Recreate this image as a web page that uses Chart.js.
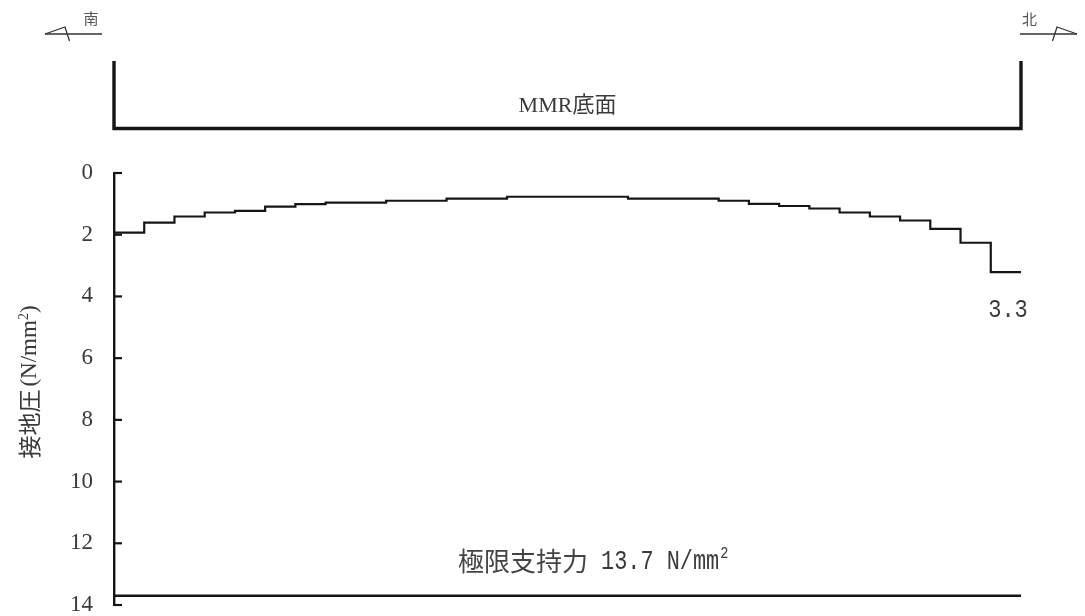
<!DOCTYPE html>
<html><head><meta charset="utf-8">
<script src="https://cdn.jsdelivr.net/npm/chart.js@4/dist/chart.umd.min.js"></script>
<style>html,body{margin:0;padding:0;background:#fff;}#wrap{width:1085px;height:616px;}</style>
</head><body><div id="wrap"><canvas id="c" width="1085" height="616"></canvas></div>
<script>
// ---- data ----
const segmentStarts = [0,1,2,3,4,5,6,7,9,11,13,17,20,21,22,23,24,25,26,27,28,29,30];
const pressureValues = [1.93,1.61,1.41,1.28,1.23,1.09,1.01,0.96,0.90,0.83,0.77,0.83,0.90,1.00,1.07,1.15,1.28,1.41,1.54,1.81,2.26,3.21,3.21];
const ultimateCapacity = 13.7;
const xRange = [0, 30];
const yTickValues = [0,2,4,6,8,10,12,14];
const yTickLabels = ['0','2','4','6','8','10','12','14'];
const yAxisTitleCJK = '接地圧';
const yAxisTitleUnit = '(N/mm';
const yAxisTitleSup = '2';
const yAxisTitleClose = ')';
const baseLabel = 'MMR底面';
const ultimateLabelCJK = '極限支持力';
const ultimateLabelLatin = ' 13.7 N/mm';
const ultimateLabelSup = '2';
const endValueLabel = '3.3';
const southLabel = '南';
const northLabel = '北';

const INK = '#151515';
const TXT = '#3a3a3a';

function condensedText(ctx, text, x, y, font, sx, align) {
  ctx.save();
  ctx.font = font;
  const w = ctx.measureText(text).width * sx;
  let left = x;
  if (align === 'center') left = x - w / 2;
  else if (align === 'right') left = x - w;
  ctx.translate(left, y);
  ctx.scale(sx, 1);
  ctx.textAlign = 'left';
  ctx.fillText(text, 0, 0);
  ctx.restore();
  return w;
}

const decor = {
  id: 'decor',
  afterDraw(chart) {
    const ctx = chart.ctx;
    const xs = chart.scales.x, ys = chart.scales.y;
    const xL = xs.getPixelForValue(xRange[0]);
    const xR = xs.getPixelForValue(xRange[1]);
    ctx.save();
    // inward tick marks
    ctx.strokeStyle = INK; ctx.lineWidth = 2.2;
    yTickValues.forEach(v => {
      const py = ys.getPixelForValue(v);
      ctx.beginPath(); ctx.moveTo(xL, py); ctx.lineTo(xL + 8, py); ctx.stroke();
    });
    // base bracket
    ctx.lineWidth = 3.4; ctx.lineCap = 'butt'; ctx.lineJoin = 'miter';
    ctx.beginPath();
    ctx.moveTo(xL, 61); ctx.lineTo(xL, 128.5); ctx.lineTo(xR, 128.5); ctx.lineTo(xR, 61);
    ctx.stroke();
    // base label
    ctx.fillStyle = TXT;
    ctx.font = "22px 'Liberation Serif','Noto Sans CJK JP'";
    ctx.textAlign = 'center'; ctx.textBaseline = 'middle';
    ctx.fillText(baseLabel, (xL + xR) / 2, 106);
    // south / north arrows
    ctx.strokeStyle = '#333'; ctx.lineWidth = 1.3;
    ctx.beginPath(); ctx.moveTo(45, 34); ctx.lineTo(102, 34); ctx.stroke();
    ctx.beginPath(); ctx.moveTo(45, 34); ctx.lineTo(65, 27); ctx.lineTo(69.5, 41); ctx.stroke();
    ctx.beginPath(); ctx.moveTo(1020, 34); ctx.lineTo(1077, 34); ctx.stroke();
    ctx.beginPath(); ctx.moveTo(1077, 34); ctx.lineTo(1057, 27); ctx.lineTo(1052.5, 41); ctx.stroke();
    ctx.fillStyle = '#555';
    ctx.font = "15px 'Noto Sans CJK JP'";
    ctx.textAlign = 'center'; ctx.textBaseline = 'middle';
    ctx.fillText(southLabel, 91, 18);
    ctx.fillText(northLabel, 1029.5, 19);
    // end value label
    ctx.fillStyle = TXT; ctx.textBaseline = 'middle';
    condensedText(ctx, endValueLabel, 1008, 310, "25px 'Liberation Mono'", 0.88, 'center');
    // ultimate capacity label
    const ly = 561;
    ctx.font = "26px 'Noto Sans CJK JP'";
    ctx.textAlign = 'left'; ctx.textBaseline = 'middle';
    ctx.fillStyle = '#444';
    ctx.fillText(ultimateLabelCJK, 458, ly);
    const wc = ctx.measureText(ultimateLabelCJK).width;
    ctx.fillStyle = TXT;
    const wl = condensedText(ctx, ultimateLabelLatin, 458 + wc, ly + 1, "27px 'Liberation Mono'", 0.81, 'left');
    condensedText(ctx, ultimateLabelSup, 458 + wc + wl + 1, ly - 7, "16px 'Liberation Mono'", 0.85, 'left');
    // y axis title (rotated)
    ctx.save();
    ctx.translate(29, 382);
    ctx.rotate(-Math.PI / 2);
    ctx.textBaseline = 'middle'; ctx.textAlign = 'left';
    ctx.font = "23px 'Noto Sans CJK JP'";
    const a = ctx.measureText(yAxisTitleCJK).width;
    ctx.font = "23px 'Liberation Serif'";
    const b = ctx.measureText(yAxisTitleUnit).width;
    ctx.font = "14px 'Liberation Serif'";
    const c = ctx.measureText(yAxisTitleSup).width;
    ctx.font = "23px 'Liberation Serif'";
    const d = ctx.measureText(yAxisTitleClose).width;
    let sx = -(a + b + c + d + 3) / 2;
    ctx.fillStyle = TXT;
    ctx.font = "23px 'Noto Sans CJK JP'";
    ctx.fillText(yAxisTitleCJK, sx, 0); sx += a + 3;
    ctx.font = "23px 'Liberation Serif'";
    ctx.fillText(yAxisTitleUnit, sx, 1); sx += b;
    ctx.font = "14px 'Liberation Serif'";
    ctx.fillText(yAxisTitleSup, sx, -5); sx += c;
    ctx.font = "23px 'Liberation Serif'";
    ctx.fillText(yAxisTitleClose, sx, 1);
    ctx.restore();
    ctx.restore();
  }
};

new Chart(document.getElementById('c'), {
  type: 'line',
  data: {
    datasets: [
      {
        data: segmentStarts.map((x, i) => ({ x: x, y: pressureValues[i] })),
        stepped: 'before', borderColor: INK, borderWidth: 2.2, pointRadius: 0, fill: false
      },
      {
        data: xRange.map(x => ({ x: x, y: ultimateCapacity })),
        borderColor: INK, borderWidth: 2.6, pointRadius: 0, fill: false
      }
    ]
  },
  options: {
    responsive: false, animation: false, devicePixelRatio: 1,
    layout: { padding: { left: 0, right: 64, top: 173, bottom: 11 } },
    plugins: { legend: { display: false }, tooltip: { enabled: false } },
    scales: {
      x: { type: 'linear', min: xRange[0], max: xRange[1], display: false },
      y: {
        type: 'linear', reverse: true, min: 0, max: 14,
        afterBuildTicks(s) { s.ticks = yTickValues.map(v => ({ value: v })); },
        ticks: {
          callback: (v, i) => yTickLabels[i],
          font: { family: 'Liberation Serif', size: 23 }, color: TXT, padding: 21
        },
        grid: { display: true, drawOnChartArea: false, drawTicks: false },
        border: { display: true, color: INK, width: 2.4 },
        title: { display: false },
        afterFit(s) { s.width = 114; s.paddingTop = 0; s.paddingBottom = 0; }
      }
    }
  },
  plugins: [decor]
});
</script>
</body></html>
